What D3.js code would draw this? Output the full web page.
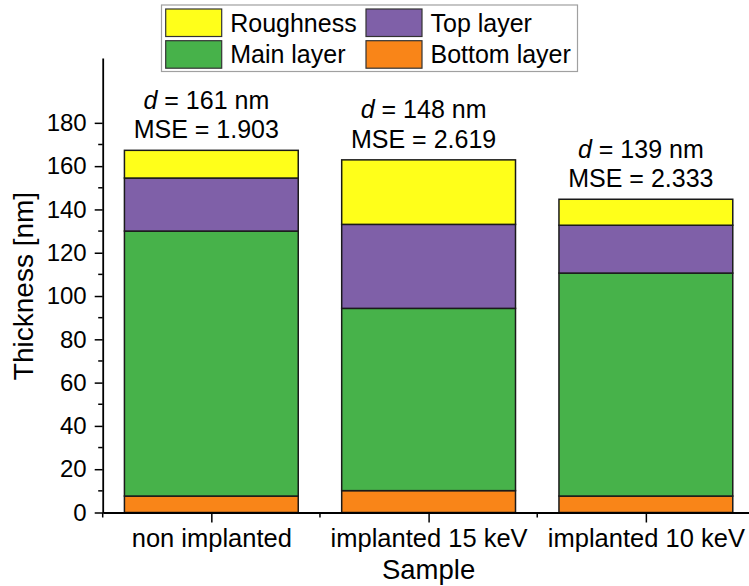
<!DOCTYPE html>
<html>
<head>
<meta charset="utf-8">
<script src="https://cdn.jsdelivr.net/npm/d3@7"></script>
<style>
  html, body { margin: 0; padding: 0; background: #fff; }
  svg { display: block; font-family: "Liberation Sans", Arial, Helvetica, sans-serif; }
</style>
</head>
<body>
<svg id="chart" width="749" height="586"></svg>
<script>
// Layer thickness per sample (nm), stacked from substrate upward
const categories   = ["non implanted", "implanted 15 keV", "implanted 10 keV"];
const bottomLayer  = [7.6, 10.1, 7.6];
const mainLayer    = [122.4, 84.2, 103.0];
const topLayer     = [24.5, 38.8, 22.1];
const roughness    = [12.8, 29.8, 12.0];
const totalD       = [161, 148, 139];
const mseValues    = ["1.903", "2.619", "2.333"];
const yMajorTicks  = [0, 20, 40, 60, 80, 100, 120, 140, 160, 180];
const yMinorTicks  = [10, 30, 50, 70, 90, 110, 130, 150, 170];

const layerKeys   = ["Bottom layer", "Main layer", "Top layer", "Roughness"];
const layerColors = {
  "Bottom layer": "#f98518",
  "Main layer":   "#47b24a",
  "Top layer":    "#7f60a8",
  "Roughness":    "#ffff1a"
};

const rows = categories.map((c, i) => ({
  sample: c,
  idx: i + 1,
  "Bottom layer": bottomLayer[i],
  "Main layer": mainLayer[i],
  "Top layer": topLayer[i],
  "Roughness": roughness[i]
}));

const svg = d3.select("#chart");

const x = d3.scaleLinear().domain([0.5, 3.5]).range([102.7, 754.5]);
const y = d3.scaleLinear().domain([0, 210]).range([512.5, 57.9]);
const barW = 0.8;

const series = d3.stack().keys(layerKeys)(rows);

// Stacked bars
svg.append("g")
  .selectAll("g")
  .data(series)
  .join("g")
    .attr("fill", d => layerColors[d.key])
  .selectAll("rect")
  .data(d => d)
  .join("rect")
    .attr("x", d => x(d.data.idx - barW / 2))
    .attr("width", d => x(d.data.idx + barW / 2) - x(d.data.idx - barW / 2))
    .attr("y", d => y(d[1]))
    .attr("height", d => y(d[0]) - y(d[1]))
    .attr("stroke", "#1a1a1a")
    .attr("stroke-width", 1.5);

// Y axis (major + minor ticks)
const yAxis = svg.append("g")
  .attr("transform", `translate(${x(0.5)},0)`)
  .call(d3.axisLeft(y).tickValues(yMajorTicks).tickSize(8).tickPadding(8).tickSizeOuter(0));
yAxis.select(".domain").attr("stroke-width", 1.8);
yAxis.selectAll(".tick line").attr("stroke-width", 1.5);
yAxis.selectAll(".tick text")
  .attr("font-size", 24).attr("fill", "#000")
  .attr("font-family", "'Liberation Sans', Arial, sans-serif");

svg.append("g")
  .attr("transform", `translate(${x(0.5)},0)`)
  .selectAll("line")
  .data(yMinorTicks)
  .join("line")
    .attr("x1", -4.5).attr("x2", 0)
    .attr("y1", d => y(d)).attr("y2", d => y(d))
    .attr("stroke", "#000").attr("stroke-width", 1.5);

// X axis (categories at major ticks, minor ticks between)
const xAxis = svg.append("g")
  .attr("transform", `translate(0,${y(0)})`)
  .call(d3.axisBottom(x).tickValues([1, 2, 3])
    .tickFormat(d => categories[d - 1]).tickSize(10).tickSizeOuter(0));
xAxis.select(".domain").attr("stroke-width", 1.8);
xAxis.selectAll(".tick line").attr("stroke-width", 1.5);
xAxis.selectAll(".tick text")
  .attr("y", 34.2).attr("dy", null)
  .attr("font-size", 25.5).attr("fill", "#000")
  .attr("font-family", "'Liberation Sans', Arial, sans-serif");

svg.append("g")
  .attr("transform", `translate(0,${y(0)})`)
  .selectAll("line")
  .data([0.5, 1.5, 2.5, 3.5])
  .join("line")
    .attr("x1", d => x(d)).attr("x2", d => x(d))
    .attr("y1", 0).attr("y2", 5)
    .attr("stroke", "#000").attr("stroke-width", 1.5);

// Axis titles
svg.append("text")
  .attr("x", (x(0.5) + x(3.5)) / 2).attr("y", 578.5)
  .attr("text-anchor", "middle").attr("font-size", 27.5)
  .text("Sample");

svg.append("text")
  .attr("transform", `translate(32.5,${286}) rotate(-90)`)
  .attr("text-anchor", "middle").attr("font-size", 28)
  .text("Thickness [nm]");

// Annotations above each bar: total thickness and fit MSE
const tops = rows.map(r => layerKeys.reduce((s, k) => s + r[k], 0));
const ann = svg.append("g").attr("font-size", 25).attr("text-anchor", "middle");
rows.forEach((r, i) => {
  const cx = x(r.idx) - 5;
  const mseY = y(tops[i]) - 12;
  const t1 = ann.append("text").attr("x", cx).attr("y", mseY - 29.5);
  t1.append("tspan").attr("font-style", "italic").text("d");
  t1.append("tspan").text(` = ${totalD[i]} nm`);
  ann.append("text").attr("x", cx).attr("y", mseY).text(`MSE = ${mseValues[i]}`);
});

// Legend
const legend = svg.append("g");
legend.append("rect")
  .attr("x", 161.5).attr("y", 5).attr("width", 416).attr("height", 66.5)
  .attr("fill", "#fff").attr("stroke", "#a0a0a0").attr("stroke-width", 1.2);

const legendItems = [
  { key: "Roughness",    col: 0, row: 0 },
  { key: "Top layer",    col: 1, row: 0 },
  { key: "Main layer",   col: 0, row: 1 },
  { key: "Bottom layer", col: 1, row: 1 }
];
const colX = [165.7, 366];
const rowY = [9, 40.7];
legendItems.forEach(it => {
  legend.append("rect")
    .attr("x", colX[it.col]).attr("y", rowY[it.row])
    .attr("width", 56).attr("height", 27.5)
    .attr("fill", layerColors[it.key])
    .attr("stroke", "#333").attr("stroke-width", 1.2);
  legend.append("text")
    .attr("x", colX[it.col] + 64.5).attr("y", rowY[it.row] + 22.7)
    .attr("font-size", 25)
    .text(it.key);
});
</script>
</body>
</html>
